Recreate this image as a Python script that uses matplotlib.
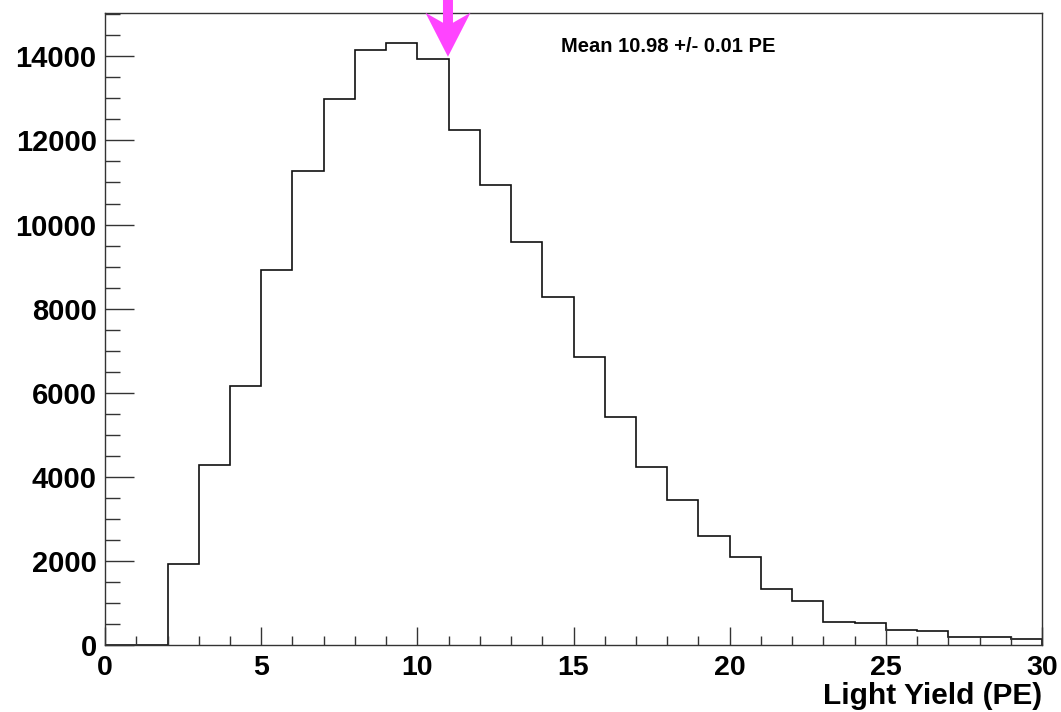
import matplotlib.pyplot as plt
from matplotlib.ticker import MultipleLocator
from matplotlib.patches import Polygon
from matplotlib.transforms import ScaledTranslation

# Light yield histogram, 1 PE bins from 0 to 30
bin_edges = list(range(0, 31))
counts = [0, 0, 1930, 4280, 6160, 8910, 11270, 12980, 14140, 14320,
          13930, 12240, 10930, 9580, 8270, 6850, 5420, 4230, 3450, 2590,
          2100, 1330, 1045, 555, 520, 355, 330, 200, 200, 140]
mean_pe = 10.98
mean_err = 0.01
arrow_tip = 13990   # where the marker points to
xlabel = 'Light Yield (PE)'

plt.rcParams['font.family'] = ['Liberation Sans', 'DejaVu Sans']
plt.rcParams['font.weight'] = 'bold'

fig = plt.figure(figsize=(10.61, 7.12), dpi=100)
ax = fig.add_axes([0.099, 0.0941, 0.8831, 0.8876])

ax.stairs(counts, bin_edges, color='#111111', lw=1.2)

ax.set_xlim(0, 30)
ax.set_ylim(0, 15030)

ax.xaxis.set_major_locator(MultipleLocator(5))
ax.xaxis.set_minor_locator(MultipleLocator(1))
ax.yaxis.set_major_locator(MultipleLocator(2000))
ax.yaxis.set_minor_locator(MultipleLocator(500))

ax.tick_params(axis='both', which='both', direction='in', color='#333333', width=1.0)
ax.tick_params(axis='y', which='major', length=21, pad=6, labelsize=21)
ax.tick_params(axis='y', which='minor', length=11)
ax.tick_params(axis='x', which='major', length=13, pad=7, labelsize=20.5)
ax.tick_params(axis='x', which='minor', length=6.5)
for sp in ax.spines.values():
    sp.set_linewidth(1.0)
    sp.set_color('#333333')

ax.set_xlabel(xlabel, loc='right', fontsize=21.5, fontweight='bold', labelpad=1)

# nudge the y "0" up a bit like ROOT does
fig.canvas.draw()
zero_lab = ax.yaxis.get_major_ticks()[0].label1
zero_lab.set_transform(zero_lab.get_transform() + ScaledTranslation(0, 4/72, fig.dpi_scale_trans))

# mean marker: ROOT style arrow, shape given in pixels relative to tip
px = 1/100.
shape = [(0, 0), (22.5, 44), (5, 34), (5, 62), (-5, 62), (-5, 34), (-22.5, 44)]
tr = fig.dpi_scale_trans + ScaledTranslation(mean_pe, arrow_tip, ax.transData)
arrow = Polygon([(a*px, b*px) for a, b in shape], closed=True, transform=tr,
                facecolor='#ff44ff', edgecolor='none', clip_on=False, zorder=5)
ax.add_patch(arrow)

ax.text(0.487, 0.947, 'Mean %.2f +/- %.2f PE' % (mean_pe, mean_err), transform=ax.transAxes,
        fontsize=14.5, fontweight='bold', ha='left', va='center')

fig.savefig('out.png', dpi=100)
